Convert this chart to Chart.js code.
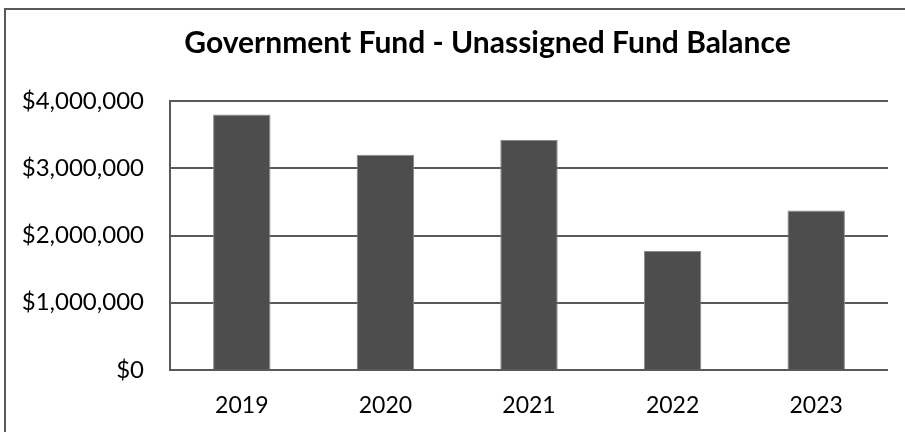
<!DOCTYPE html>
<html>
<head>
<meta charset="utf-8">
<script src="https://cdn.jsdelivr.net/npm/chart.js@4"></script>
<style>
html,body{margin:0;padding:0;background:#fff;}
#wrap{width:905px;height:432px;position:relative;}
</style>
</head>
<body>
<div id="wrap"><canvas id="c" width="905" height="432"></canvas></div>
<script>
const categories = ['2019', '2020', '2021', '2022', '2023'];
const balances = [3800000, 3200000, 3420000, 1770000, 2370000];
const yTicks = [0, 1000000, 2000000, 3000000, 4000000];
const titleText = 'Government Fund - Unassigned Fund Balance';

const frameAndTitle = {
  id: 'frameAndTitle',
  beforeDraw(chart) {
    const ctx = chart.ctx;
    ctx.save();
    ctx.fillStyle = '#fff';
    ctx.fillRect(0, 0, chart.width, chart.height);
    ctx.strokeStyle = '#595959';
    ctx.lineWidth = 2;
    ctx.strokeRect(5, 9, 1000, 1000);
    ctx.restore();
  },
  afterDraw(chart) {
    const ctx = chart.ctx;
    ctx.save();
    ctx.fillStyle = '#000';
    ctx.font = 'bold 30px Lato';
    ctx.textAlign = 'center';
    ctx.textBaseline = 'alphabetic';
    ctx.fillText(titleText, 487.5, 53);
    ctx.restore();
  }
};

const fmt = v => '$' + Number(v).toLocaleString('en-US');

new Chart(document.getElementById('c'), {
  type: 'bar',
  data: {
    labels: categories,
    datasets: [{
      data: balances,
      backgroundColor: '#4d4d4d',
      borderColor: '#8a8a8a',
      borderWidth: 1,
      barPercentage: 0.4,
      categoryPercentage: 1.0
    }]
  },
  options: {
    responsive: false,
    animation: false,
    devicePixelRatio: 1,
    layout: { padding: { left: 10, right: 17, top: 101, bottom: 11 } },
    plugins: {
      legend: { display: false },
      tooltip: { enabled: false },
      title: { display: false }
    },
    scales: {
      x: {
        afterFit(scale) { scale.height = 51; },
        grid: { display: false, drawTicks: false },
        border: { display: false },
        ticks: {
          color: '#000',
          font: { family: 'Lato', size: 23 },
          padding: 22,
          maxRotation: 0
        }
      },
      y: {
        min: 0,
        max: 4000000,
        afterBuildTicks(scale) { scale.ticks = yTicks.map(v => ({ value: v })); },
        afterFit(scale) { scale.width = 160; },
        grid: { color: '#595959', lineWidth: 2, drawTicks: false },
        border: { display: true, color: '#595959', width: 2 },
        ticks: {
          color: '#000',
          font: { family: 'Lato', size: 24 },
          padding: 26,
          callback: v => fmt(v)
        }
      }
    }
  },
  plugins: [frameAndTitle]
});
</script>
</body>
</html>
